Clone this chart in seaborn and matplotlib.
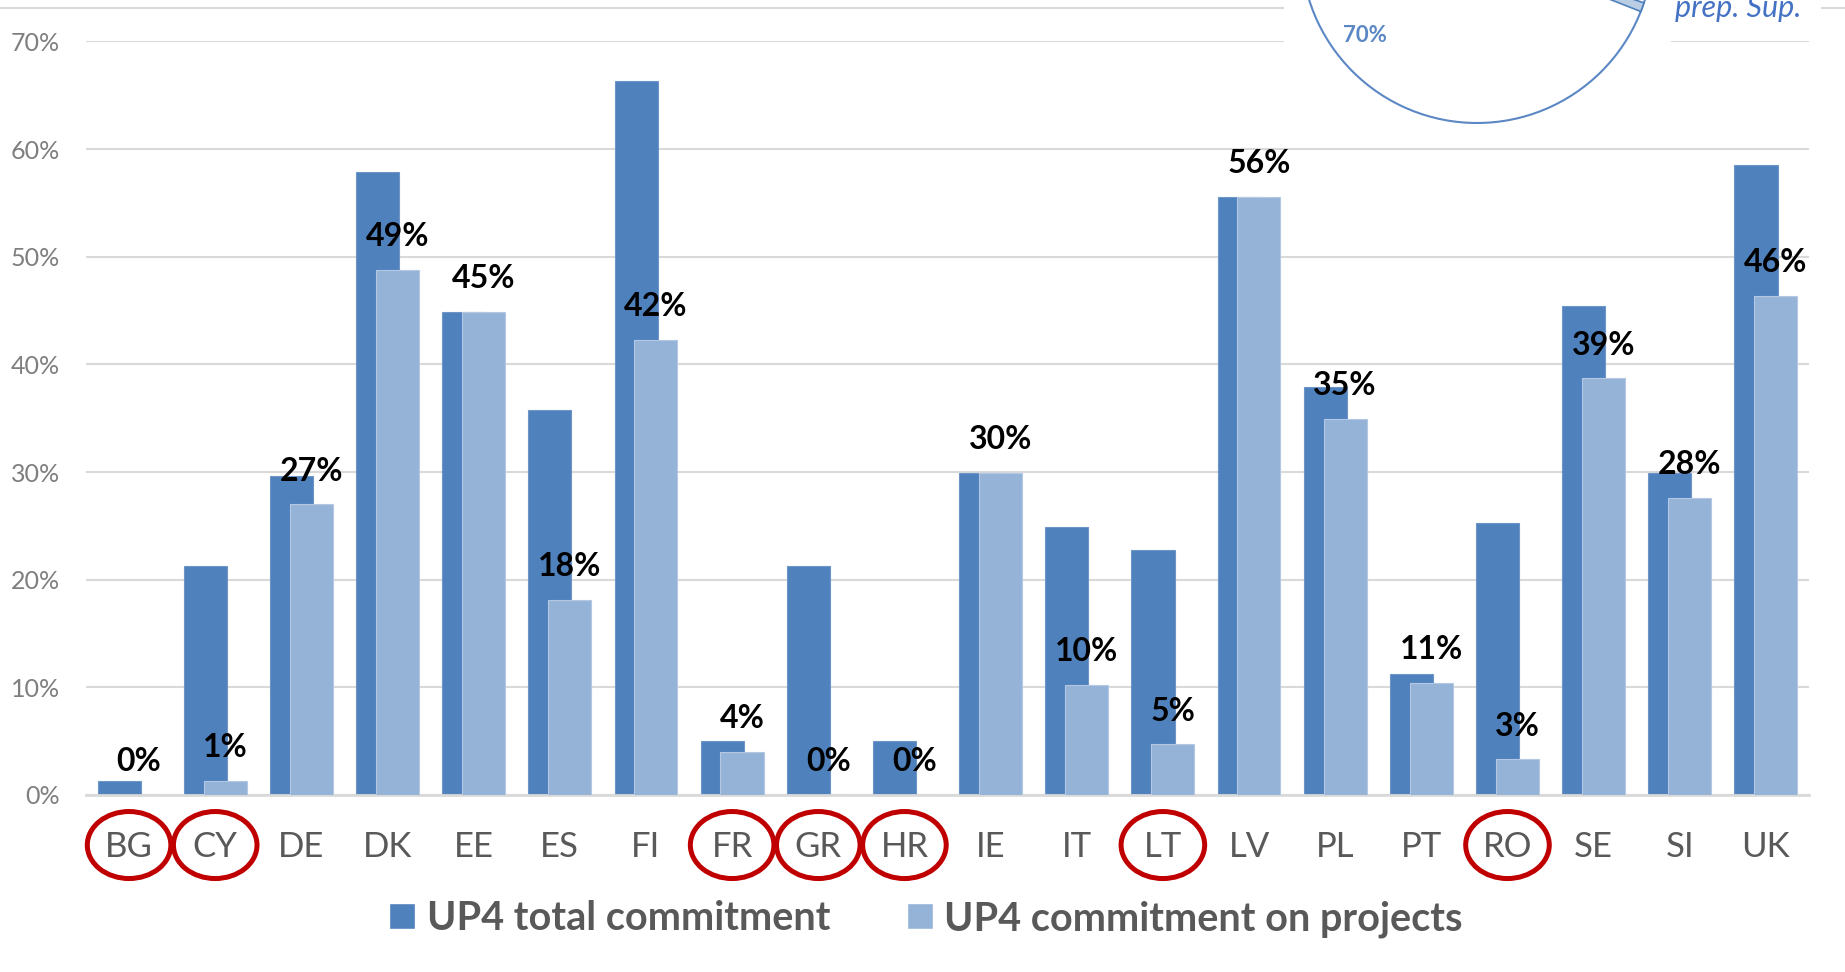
import numpy as np; import pandas as pd; import matplotlib.pyplot as plt; import seaborn as sns
from matplotlib.patches import Ellipse, Rectangle, Circle, Wedge, Patch
from matplotlib.transforms import blended_transform_factory

# values (share of allocation, %)
countries = ["BG","CY","DE","DK","EE","ES","FI","FR","GR","HR",
             "IE","IT","LT","LV","PL","PT","RO","SE","SI","UK"]
total_commit = [1.3,21.3,29.6,57.9,44.9,35.8,66.3,5.0,21.3,5.0,
                29.9,24.9,22.8,55.6,37.9,11.2,25.3,45.4,29.9,58.5]
project_commit = [0.0,1.3,27.0,48.8,44.9,18.1,42.3,4.0,0.0,0.0,
                  29.9,10.2,4.7,55.6,34.9,10.4,3.3,38.7,27.6,46.4]
project_labels = ["0%","1%","27%","49%","45%","18%","42%","4%","0%","0%",
                  "30%","10%","5%","56%","35%","11%","3%","39%","28%","46%"]
circled = ["BG","CY","FR","GR","HR","LT","RO"]
series_names = ["UP4 total commitment", "UP4 commitment on projects"]

DARK, LIGHT = "#4F81BD", "#95B3D7"
GRID, TXT = "#D9D9D9", "#595959"

sns.set_theme(style="white")
plt.rcParams["font.family"] = ["Lato", "DejaVu Sans"]

W, H = 1845, 972
fig = plt.figure(figsize=(W/100, H/100), dpi=100)
ax = fig.add_axes([86/W, 1-795/H, (1809-86)/W, (795-41.5)/H])

pos = np.arange(len(countries))
shift = 0.115
sns.barplot(x=pos - shift, y=total_commit, native_scale=True, width=0.5, color=DARK,
            saturation=1, edgecolor="#6F95C8", linewidth=0.8, ax=ax, zorder=2)
sns.barplot(x=pos + shift, y=project_commit, native_scale=True, width=0.5, color=LIGHT,
            saturation=1, edgecolor="#B4C8E3", linewidth=0.8, ax=ax, zorder=3)

for p, v, lab in zip(pos, project_commit, project_labels):
    ax.annotate(lab, (p + shift, v), xytext=(0, 24), textcoords="offset points",
                ha="center", va="center", fontsize=23, fontweight="bold", color="black", zorder=4)

ax.set_xlim(-0.5, len(countries) - 0.5)
ax.set_ylim(0, 70)
ax.set_yticks(np.arange(0, 71, 10))
ax.set_yticklabels([f"{t}%" for t in range(0, 71, 10)], fontsize=18, color="#7F7F7F")
ax.set_xticks(pos)
ax.set_xticklabels(countries, fontsize=25, color=TXT)
ax.tick_params(axis="x", length=0, pad=26)
ax.tick_params(axis="y", length=0, pad=19)
ax.set_xlabel(""); ax.set_ylabel("")
ax.yaxis.grid(True, color=GRID, lw=1.5, zorder=0)
ax.set_axisbelow(True)
for s in ["top", "right", "left"]:
    ax.spines[s].set_visible(False)
ax.spines["bottom"].set_color(GRID); ax.spines["bottom"].set_linewidth(2)

# red rings round some country codes
tr = blended_transform_factory(ax.transData, ax.transAxes)
for c in circled:
    i = countries.index(c)
    ax.add_patch(Ellipse((i, -0.0664), 0.97, 67/753.5, transform=tr, fill=False,
                         edgecolor="#C00000", lw=3.6, clip_on=False, zorder=5))

if ax.get_legend(): ax.get_legend().remove()
handles = [Patch(facecolor=DARK), Patch(facecolor=LIGHT)]
fig.legend(handles, series_names, loc="center", bbox_to_anchor=(0.502, 1-919/H), ncol=2,
           frameon=False, prop={"size": 28.5, "weight": "bold"}, labelcolor=TXT,
           handlelength=0.64, handleheight=0.64, handletextpad=0.3, columnspacing=1.95)

# bits of the neighbouring pie chart that overlap the top of the picture
ov = fig.add_axes([0, 0, 1, 1], zorder=5)
ov.set_xlim(0, W); ov.set_ylim(H, 0); ov.axis("off"); ov.patch.set_alpha(0)
ov.plot([0, W], [8, 8], color=GRID, lw=1.5, zorder=1)
ov.add_patch(Rectangle((1284, 0), 1671-1284, 135, facecolor="white", edgecolor="none", zorder=2))
ov.add_patch(Rectangle((1671, 0), 1821-1671, 25, facecolor="white", edgecolor="none", zorder=2))
ov.add_patch(Circle((1477, -53), 176, facecolor="white", edgecolor="#5B87C5", lw=1.5, zorder=3))
ov.add_patch(Wedge((1477, -53), 176, 18.5, 21.5, facecolor="#B9CDE5", edgecolor="#4F81BD", lw=1.2, zorder=4))
ov.text(1365, 35, "70%", ha="center", va="center", fontsize=16, fontweight="bold", color="#5B87C5", zorder=5)
ov.text(1675, 17, "prep. Sup.", ha="left", va="baseline", fontsize=22, style="italic", color="#4472C4", zorder=5)

fig.savefig("out.png", dpi=100, facecolor="white")
